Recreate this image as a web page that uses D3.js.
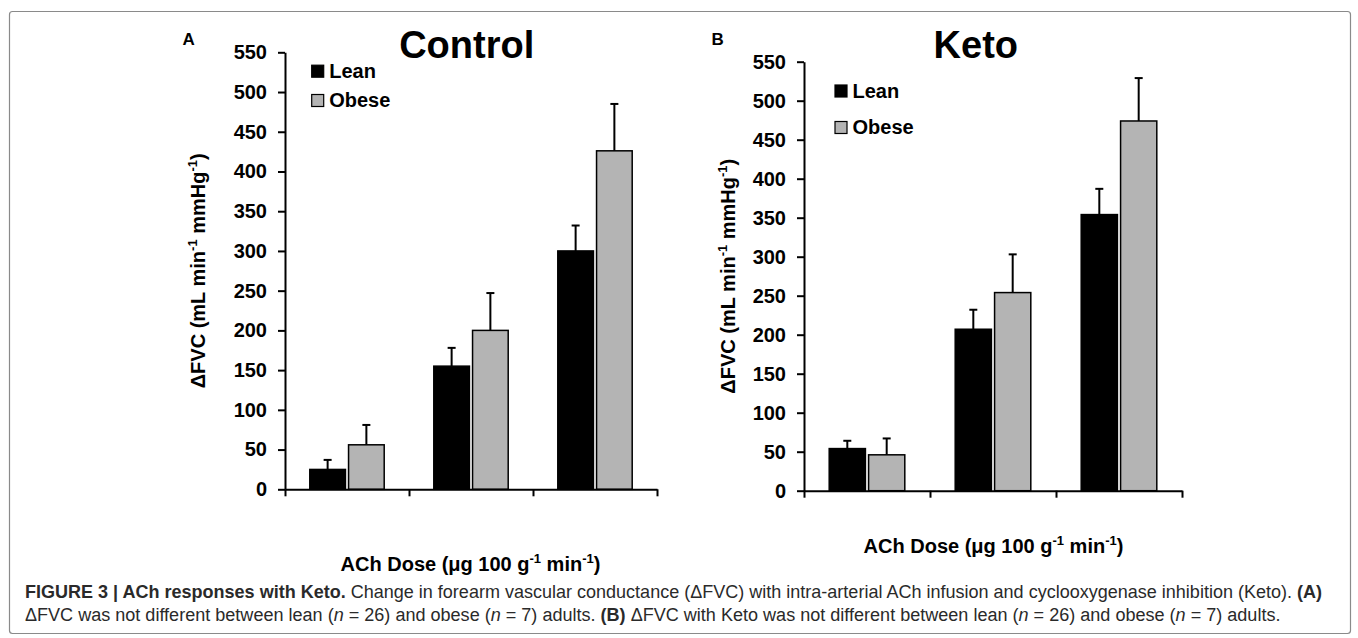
<!DOCTYPE html>
<html><head><meta charset="utf-8">
<script src="https://cdn.jsdelivr.net/npm/d3@7"></script>
<style>
html,body{margin:0;padding:0;background:#fff;}
svg text{font-family:"Liberation Sans",Arial,sans-serif;}
</style></head>
<body>
<svg id="chart" width="1358" height="638"></svg>
<script>
// ---- data ----
const categories = ["Dose 1", "Dose 2", "Dose 3"];
const seriesNames = ["Lean", "Obese"];
const yTicks = [0, 50, 100, 150, 200, 250, 300, 350, 400, 450, 500, 550];

const controlLean = [25, 155, 300];
const controlLeanErr = [12, 23, 32];
const controlObese = [56, 200, 426];
const controlObeseErr = [25, 47, 59];

const ketoLean = [54, 207, 354];
const ketoLeanErr = [10, 25, 33];
const ketoObese = [46, 254, 474];
const ketoObeseErr = [21, 49, 55];

const colors = {Lean: "#000000", Obese: "#b4b4b4"};

const svg = d3.select("#chart");

// figure frame
svg.append("rect").attr("x", 9.5).attr("y", 11.5).attr("width", 1341).attr("height", 622)
  .attr("rx", 3).attr("fill", "none").attr("stroke", "#8a8a8a").attr("stroke-width", 1.2);

function drawPanel(cfg) {
  const g = svg.append("g");
  const y = d3.scaleLinear().domain([0, 550]).range([cfg.yBottom, cfg.yTop]);
  const x = d3.scaleBand().domain(categories).range([cfg.x0, cfg.x1]).padding(0);
  const xLin = d3.scaleLinear().domain([0, categories.length]).range([cfg.x0, cfg.x1]);
  const bw = x.bandwidth();
  const xs = d3.scaleBand().domain(seriesNames).range([bw * 0.2, bw * 0.8]).paddingInner(0.08);

  const rows = [];
  categories.forEach((c, i) => {
    rows.push({cat: c, s: "Lean", v: cfg.lean[i], e: cfg.leanErr[i]});
    rows.push({cat: c, s: "Obese", v: cfg.obese[i], e: cfg.obeseErr[i]});
  });

  // error bars (behind bars)
  const eb = g.append("g").attr("stroke", "#000").attr("stroke-width", 2);
  rows.forEach(d => {
    const cx = x(d.cat) + xs(d.s) + xs.bandwidth() / 2;
    eb.append("line").attr("x1", cx).attr("x2", cx).attr("y1", y(d.v)).attr("y2", y(d.v + d.e));
    eb.append("line").attr("x1", cx - 4).attr("x2", cx + 4).attr("y1", y(d.v + d.e)).attr("y2", y(d.v + d.e));
  });

  g.append("g").selectAll("rect").data(rows).join("rect")
    .attr("x", d => x(d.cat) + xs(d.s))
    .attr("width", xs.bandwidth())
    .attr("y", d => y(d.v))
    .attr("height", d => y(0) - y(d.v))
    .attr("fill", d => colors[d.s])
    .attr("stroke", "#000").attr("stroke-width", 1.5);

  // y axis
  const ya = g.append("g").attr("transform", `translate(${cfg.x0},0)`)
    .call(d3.axisLeft(y).tickValues(yTicks).tickSize(7).tickSizeOuter(0).tickPadding(11));
  ya.select(".domain").attr("stroke-width", 2);
  ya.selectAll(".tick line").attr("stroke-width", 2);
  ya.selectAll("text").attr("font-size", 20).attr("font-weight", "bold").attr("fill", "#000")
    .attr("font-family", "Liberation Sans, Arial, sans-serif");

  // x axis (ticks at group boundaries, no labels)
  const xa = g.append("g").attr("transform", `translate(0,${cfg.yBottom})`)
    .call(d3.axisBottom(xLin).tickValues(d3.range(categories.length + 1))
      .tickFormat("").tickSize(7).tickSizeOuter(0));
  xa.select(".domain").attr("stroke-width", 2);
  xa.selectAll(".tick line").attr("stroke-width", 2);

  // title
  g.append("text").attr("x", cfg.titleX).attr("y", 57.5).attr("text-anchor", "middle")
    .attr("font-size", 38).attr("font-weight", "bold").text(cfg.title);
  // panel letter
  g.append("text").attr("x", cfg.letterX).attr("y", 45).attr("font-size", 17)
    .attr("font-weight", "bold").text(cfg.letter);

  // legend
  seriesNames.forEach((s, i) => {
    const ly = cfg.legY[i];
    g.append("rect").attr("x", cfg.legX).attr("y", ly - 12.5).attr("width", 12).attr("height", 12)
      .attr("fill", colors[s]).attr("stroke", "#000").attr("stroke-width", 1.2);
    g.append("text").attr("x", cfg.legX + 17.5).attr("y", ly).attr("font-size", 20)
      .attr("font-weight", "bold").text(s);
  });

  // y label
  const yl = g.append("text")
    .attr("transform", `translate(${cfg.yLabX},${(cfg.yTop + cfg.yBottom) / 2}) rotate(-90)`)
    .attr("text-anchor", "middle").attr("font-size", 20).attr("font-weight", "bold");
  yl.append("tspan").text("ΔFVC (mL min");
  yl.append("tspan").attr("font-size", 13).attr("dy", -8).text("-1");
  yl.append("tspan").attr("dy", 8).text(" mmHg");
  yl.append("tspan").attr("font-size", 13).attr("dy", -8).text("-1");
  yl.append("tspan").attr("dy", 8).text(")");

  // x label
  const xl = g.append("text").attr("x", cfg.xLabX).attr("y", cfg.xLabY)
    .attr("text-anchor", "middle").attr("font-size", 20).attr("font-weight", "bold");
  xl.append("tspan").text("ACh Dose (μg 100 g");
  xl.append("tspan").attr("font-size", 13).attr("dy", -8).text("-1");
  xl.append("tspan").attr("dy", 8).text(" min");
  xl.append("tspan").attr("font-size", 13).attr("dy", -8).text("-1");
  xl.append("tspan").attr("dy", 8).text(")");
}

drawPanel({
  x0: 285, x1: 657, yTop: 52.3, yBottom: 489.3,
  lean: controlLean, leanErr: controlLeanErr, obese: controlObese, obeseErr: controlObeseErr,
  title: "Control", titleX: 466.7, letter: "A", letterX: 182.5,
  legX: 311.7, legY: [77.7, 107], yLabX: 205, xLabX: 470.5, xLabY: 571
});
drawPanel({
  x0: 804, x1: 1182, yTop: 61.7, yBottom: 490.7,
  lean: ketoLean, leanErr: ketoLeanErr, obese: ketoObese, obeseErr: ketoObeseErr,
  title: "Keto", titleX: 975.8, letter: "B", letterX: 711.5,
  legX: 835, legY: [97.5, 134], yLabX: 735, xLabX: 993.5, xLabY: 553
});

// caption
const capFont = "Liberation Sans, Arial, sans-serif";
function captionLine(yPos, parts, targetWidth) {
  const t = svg.append("text").attr("x", 25).attr("y", yPos).attr("font-size", 15)
    .attr("fill", "#2a2a2a").style("font-family", capFont);
  parts.forEach(p => {
    const ts = t.append("tspan").text(p.t);
    if (p.b) ts.attr("font-weight", "bold");
    if (p.i) ts.attr("font-style", "italic");
  });
  const len = t.node().getComputedTextLength();
  if (len > 0) t.attr("font-size", 15 * targetWidth / len);
}
captionLine(597.5, [
  {t: "FIGURE 3 | ACh responses with Keto.", b: true},
  {t: " Change in forearm vascular conductance (ΔFVC) with intra-arterial ACh infusion and cyclooxygenase inhibition (Keto). "},
  {t: "(A)", b: true}
], 1298);
captionLine(621, [
  {t: "ΔFVC was not different between lean ("}, {t: "n", i: true}, {t: " = 26) and obese ("}, {t: "n", i: true},
  {t: " = 7) adults. "}, {t: "(B)", b: true},
  {t: " ΔFVC with Keto was not different between lean ("}, {t: "n", i: true}, {t: " = 26) and obese ("},
  {t: "n", i: true}, {t: " = 7) adults."}
], 1256);
</script>
</body></html>
